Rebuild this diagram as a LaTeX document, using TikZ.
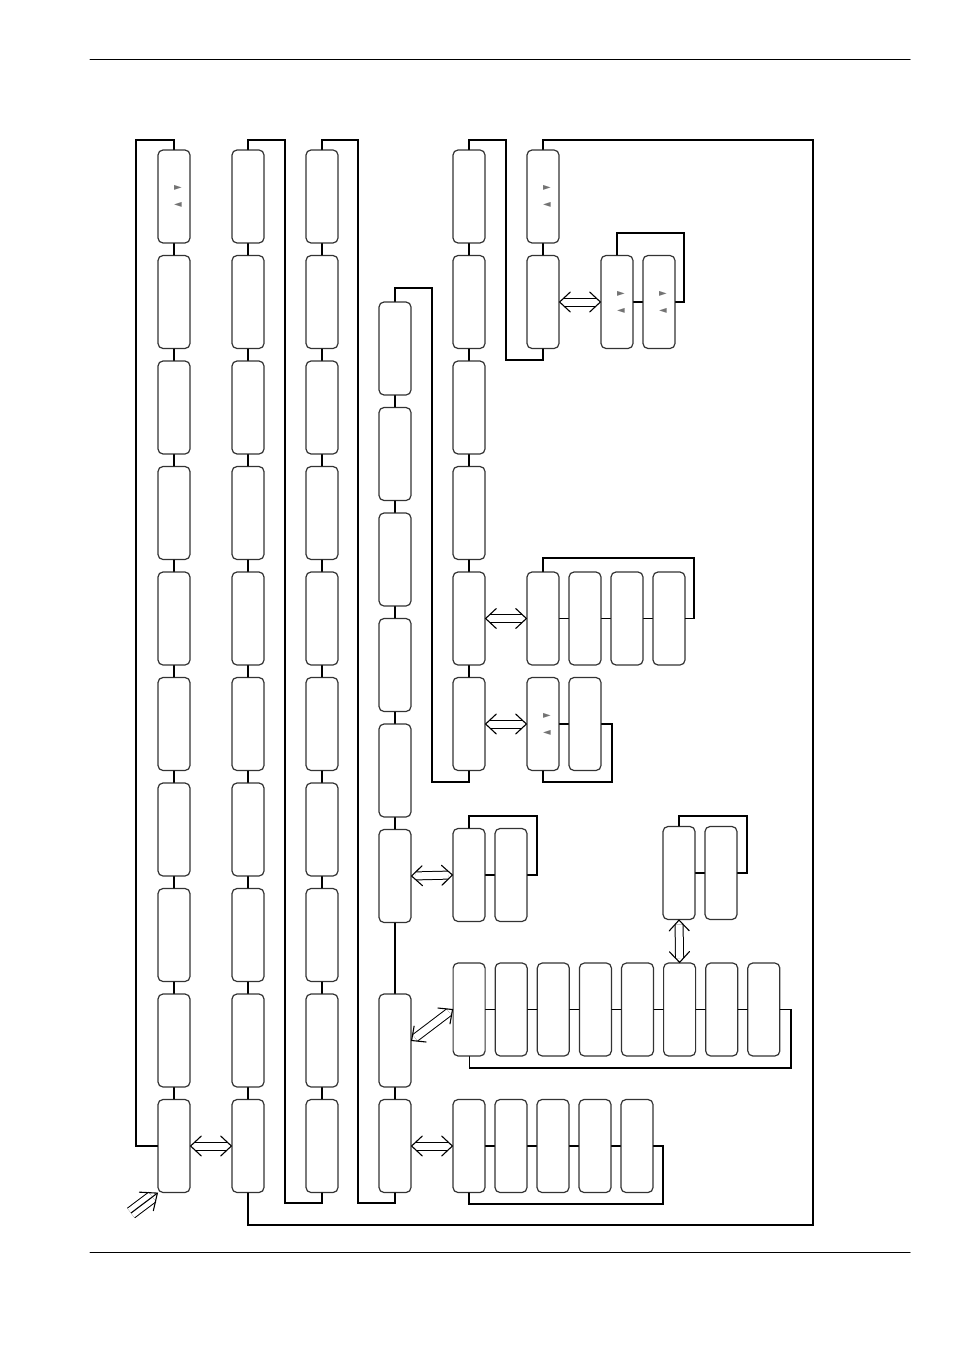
\documentclass[tikz,border=0pt]{standalone}
\usepackage{fontspec}
\newfontfamily\glyphfont{DejaVu Sans}
\usetikzlibrary{arrows.meta,calc}

\begin{document}
\begin{tikzpicture}[x=0.5pt,y=-0.5pt,line cap=round,
  menubox/.style={draw=black!80,line width=0.6pt,rounded corners=2.5pt,
    minimum width=16pt,minimum height=46.5pt,inner sep=0pt},
  link/.style={line width=0.55pt},
  backline/.style={line width=0.75pt},
  dblline/.style={double,double distance=3.5pt,line width=0.5pt,line cap=butt,
    shorten <=2.2pt,shorten >=2.2pt},
  updn/.style={font=\glyphfont\fontsize{5pt}{5pt}\selectfont,text=black!55,inner sep=0pt}]

  \useasboundingbox (0,0) rectangle (954,1348);

  % ---- page rules ----
  \draw[line width=0.5pt] (90,60) -- (910,60);
  \draw[line width=0.5pt] (90,1252) -- (910,1252);

  % ===== three long columns, ten boxes each =====
  \foreach \i in {1,...,10} {
    \node[menubox] (a\i) at (174,{91+105.5*\i}) {};
    \node[menubox] (b\i) at (248,{91+105.5*\i}) {};
    \node[menubox] (c\i) at (322,{91+105.5*\i}) {};
  }
  \foreach \i [count=\j from 2] in {1,...,9} {
    \draw[link] (a\i.south) -- (a\j.north);
    \draw[link] (b\i.south) -- (b\j.north);
    \draw[link] (c\i.south) -- (c\j.north);
  }

  % ---- column d ----
  \foreach \i in {1,...,6}
    \node[menubox] (d\i) at (395,{243+105.5*\i}) {};
  \node[menubox] (d7) at (395,1040.5) {};
  \node[menubox] (d8) at (395,1146) {};
  \foreach \i [count=\j from 2] in {1,...,7}
    \draw[link] (d\i.south) -- (d\j.north);

  % ---- column e and f ----
  \foreach \i in {1,...,6}
    \node[menubox] (e\i) at (469,{91+105.5*\i}) {};
  \foreach \i [count=\j from 2] in {1,...,5}
    \draw[link] (e\i.south) -- (e\j.north);
  \node[menubox] (f1) at (543,196.5) {};
  \node[menubox] (f2) at (543,302) {};
  \draw[link] (f1.south) -- (f2.north);

  % ---- side rows ----
  \foreach \i in {1,2} {
    \node[menubox] (g\i) at ({575+42*\i},302) {};
    \node[menubox] (k\i) at ({501+42*\i},724) {};
    \node[menubox] (m\i) at ({427+42*\i},875) {};
    \node[menubox] (s\i) at ({637+42*\i},873) {};
  }
  \foreach \i in {1,...,4}
    \node[menubox] (h\i) at ({501+42*\i},618.5) {};
  \foreach \i in {1,...,8}
    \node[menubox] (r\i) at ({427+42.1*\i},1009.5) {};
  \foreach \i in {1,...,5}
    \node[menubox] (t\i) at ({427+42*\i},1146) {};

  \foreach \p/\q in {g1/g2,k1/k2,m1/m2,s1/s2,h1/h2,h2/h3,h3/h4,
      r1/r2,r2/r3,r3/r4,r4/r5,r5/r6,r6/r7,r7/r8,t1/t2,t2/t3,t3/t4,t4/t5}
    \draw[link] (\p.east) -- (\q.west);

  % ---- return lines ----
  \draw[backline] (a1.north) |- (136,140) |- (a10.west);
  \draw[backline] (b1.north) |- (285,140) -- (285,1203) -| (c10.south);
  \draw[backline] (c1.north) |- (358,140) -- (358,1203) -| (d8.south);
  \draw[backline] (e1.north) |- (506,140) -- (506,360) -| (f2.south);
  \draw[link] (b10.south) |- (813,1225) -- (813,140) -| (f1.north);
  \draw[link] (e6.south) |- (432,782) |- (395,288) -- (d1.north);
  \draw[link] (g1.north) |- (684,233) |- (g2.east);
  \draw[backline] (h1.north) |- (694,558) |- (h4.east);
  \draw[link] (k2.east) -| (612,782) -| (k1.south);
  \draw[link] (m1.north) |- (537,816) |- (m2.east);
  \draw[link] (r1.south) |- (791,1068) |- (r8.east);
  \draw[link] (s1.north) |- (747,816) |- (s2.east);
  \draw[backline] (t1.south) |- (663,1204) |- (t5.east);

  % ---- double arrows, open heads at both ends ----
  \foreach \p/\q in {a10.east/b10.west,f2.east/g1.west,e5.east/h1.west,
      e6.east/k1.west,d6.east/m1.west,d7.east/r1.west,d8.east/t1.west,
      r6.north/s1.south} {
    \draw[dblline] (\p) -- (\q);
    \draw[link] ($(\p)!7.3pt!43:(\q)$) -- (\p) -- ($(\p)!7.3pt!-43:(\q)$);
    \draw[link] ($(\q)!7.3pt!43:(\p)$) -- (\q) -- ($(\q)!7.3pt!-43:(\p)$);
  }

  % ---- entry arrow ----
  \coordinate (entry) at (131,1213);
  \draw[dblline,double distance=5.5pt,shorten <=0pt,shorten >=3.2pt]
    (entry) -- (a10.south west);
  \draw[link,line cap=butt] (entry) -- (a10.south west);
  \draw[link] ($(a10.south west)!9pt!40:(entry)$) -- (a10.south west)
    -- ($(a10.south west)!9pt!-40:(entry)$);

  % ---- small up/down marks ----
  \foreach \n in {a1,f1,g1,g2,k1} {
    \node[updn] (\n-up) at ($(\n.center)+(4,-8.5)$) {►};
    \node[updn] (\n-dn) at ($(\n.center)+(4,8.5)$) {◄};
  }

\end{tikzpicture}
\end{document}
